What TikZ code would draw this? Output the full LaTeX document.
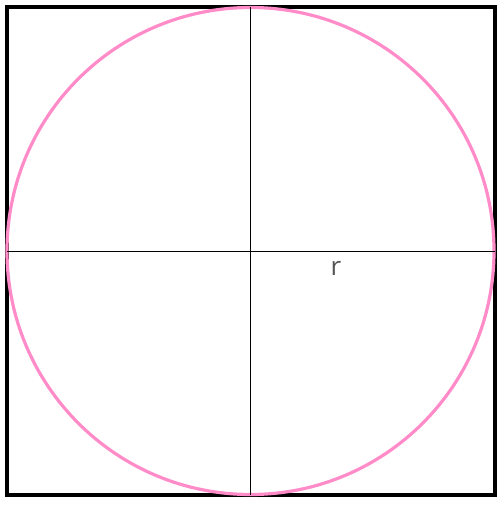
\documentclass[tikz,border=0pt]{standalone}
\usepackage{fontspec}
\setmainfont{Open Sans}
\usepackage{tikz}
\usetikzlibrary{positioning}

\definecolor{circlepink}{HTML}{FF8CC8}
\definecolor{labelgray}{HTML}{555555}

\tikzset{
  frame/.style={draw=black, line width=4pt},
  ring/.style={draw=circlepink, line width=3.2pt},
  axis/.style={draw=black, line width=1pt},
  radlabel/.style={text=labelgray, font=\fontsize{26}{30}\selectfont, inner sep=0pt},
}

\begin{document}
\begin{tikzpicture}[x=1pt, y=-1pt]
\useasboundingbox (0,0) rectangle (503,505);

%% -- frame and circle
\draw[frame] (7,7) rectangle (495,495);
\coordinate (O) at (250.5,251);
\draw[ring] (O) circle (243.5);

%% -- cross lines
\coordinate (top) at (250.5,7);
\coordinate (bot) at (250.5,495);
\coordinate (lft) at (7,251);
\coordinate (rgt) at (495,251);
\draw[axis] (top) -- (bot);
\draw[axis] (lft) -- (rgt);

%% -- radius label
\node[radlabel] (r) at (336,268) {r};

\end{tikzpicture}
\end{document}
